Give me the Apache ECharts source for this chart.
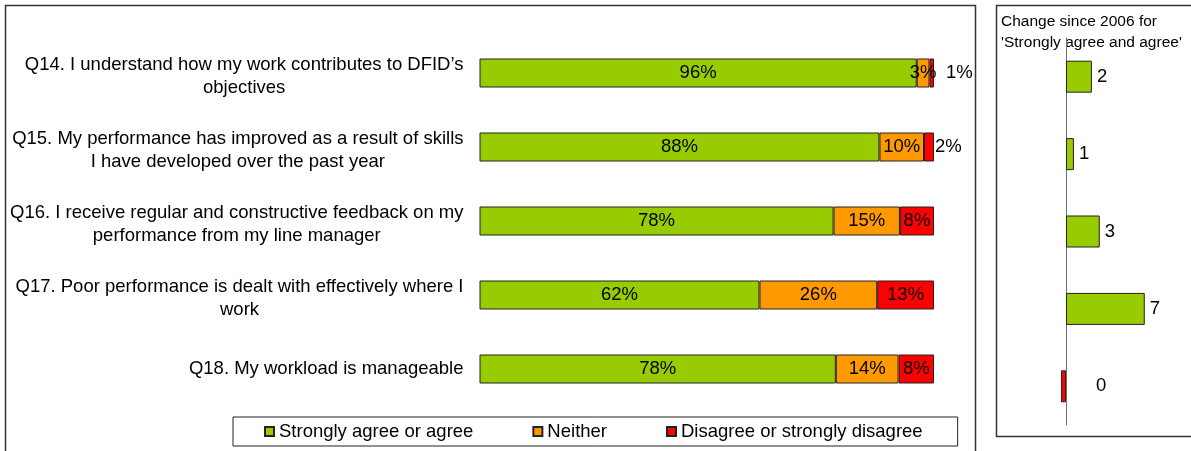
<!DOCTYPE html>
<html>
<head>
<meta charset="utf-8">
<script src="https://cdn.jsdelivr.net/npm/echarts@6/dist/echarts.min.js"></script>
<style>
  html, body { margin: 0; padding: 0; background: #fff; }
  #chart { width: 1191px; height: 451px; }
</style>
</head>
<body>
<div id="chart"></div>
<script>
// Survey statements (top to bottom)
const questions = [
  "Q14. I understand how my work contributes to DFID\u2019s\nobjectives",
  "Q15. My performance has improved as a result of skills\nI have developed over the past year",
  "Q16. I receive regular and constructive feedback on my\nperformance from my line manager",
  "Q17. Poor performance is dealt with effectively where I\nwork",
  "Q18. My workload is manageable"
];
const seriesNames = ["Strongly agree or agree", "Neither", "Disagree or strongly disagree"];

// Percent of respondents
const agree    = [96.2, 88.0, 77.9, 61.6, 78.4];
const neither  = [2.8, 9.8, 14.6, 25.9, 13.8];
const disagree = [1.0, 2.2, 7.5, 12.5, 7.8];

// Change in 'Strongly agree and agree' since 2006 (percentage points)
const change = [2.3, 0.7, 3.0, 7.0, -0.45];

const GREEN = '#99CC00', ORANGE = '#FF9900', RED = '#FF0000';
const FONT = 'Liberation Sans, Arial, sans-serif';
const FS = 18.5;

const chart = echarts.init(document.getElementById('chart'), null, { renderer: 'canvas' });

const pct = p => Math.round(p.value) + '%';
const barLabel = { show: true, position: 'inside', color: '#000', fontSize: FS, fontFamily: FONT, formatter: pct };
const barBorder = { borderColor: '#222', borderWidth: 1 };

// Small red segments get their label pushed outside the bar end
const disagreeData = disagree.map((v, i) => {
  if (i === 0) return { value: v, label: { position: 'right', distance: 12 } };
  if (i === 1) return { value: v, label: { position: 'right', distance: 1 } };
  return v;
});

const changeData = change.map(v => v < 0
  ? { value: v, itemStyle: { color: RED }, label: { position: 'right', distance: 30 } }
  : v);

// Two-line statements: each line centred within the right-aligned block,
// with a thin spacer line on top so the block sits slightly lower.
const questionLabel = v => {
  const lines = v.split('\n');
  if (lines.length === 1) return '{c|' + lines[0] + '}';
  return '{s| }\n' + lines.map(s => '{c|' + s + '}').join('\n');
};

const option = {
  animation: false,
  backgroundColor: '#fff',
  textStyle: { fontFamily: FONT },
  grid: [
    { left: 479.5, width: 454.5, top: 36, height: 370 },
    { left: 1043.5, width: 123.75, top: 38, height: 387 }
  ],
  legend: {
    data: seriesNames,
    left: 233, top: 417,
    orient: 'horizontal',
    padding: [5, 35, 5, 31],
    itemWidth: 9, itemHeight: 9, itemGap: 59,
    icon: 'rect',
    borderColor: '#222', borderWidth: 1,
    backgroundColor: '#fff',
    textStyle: { fontSize: FS, color: '#000', fontFamily: FONT }
  },
  xAxis: [
    { gridIndex: 0, type: 'value', min: 0, max: 100, show: false },
    { gridIndex: 1, type: 'value', min: -2, max: 9, show: false }
  ],
  yAxis: [
    {
      gridIndex: 0, type: 'category', data: questions, inverse: true,
      axisLine: { show: false }, axisTick: { show: false }, splitLine: { show: false },
      axisLabel: {
        margin: 16, align: 'right', color: '#000', fontSize: FS, fontFamily: FONT, lineHeight: 23,
        formatter: questionLabel,
        rich: {
          c: { align: 'center', fontSize: FS, fontFamily: FONT, color: '#000', lineHeight: 23 },
          s: { fontSize: 1, lineHeight: 6 }
        }
      }
    },
    {
      gridIndex: 1, type: 'category', data: questions, inverse: true,
      axisLine: { show: true, onZero: true, lineStyle: { color: '#707070', width: 1 } },
      axisTick: { show: false }, axisLabel: { show: false }, splitLine: { show: false }
    }
  ],
  series: [
    { name: seriesNames[0], type: 'bar', stack: 'all', xAxisIndex: 0, yAxisIndex: 0, barWidth: 29,
      itemStyle: Object.assign({ color: GREEN }, barBorder), label: barLabel, data: agree },
    { name: seriesNames[1], type: 'bar', stack: 'all', xAxisIndex: 0, yAxisIndex: 0, barWidth: 29,
      itemStyle: Object.assign({ color: ORANGE }, barBorder), label: barLabel, data: neither },
    { name: seriesNames[2], type: 'bar', stack: 'all', xAxisIndex: 0, yAxisIndex: 0, barWidth: 29,
      itemStyle: Object.assign({ color: RED }, barBorder), label: barLabel, data: disagreeData },
    { name: 'Change since 2006', type: 'bar', xAxisIndex: 1, yAxisIndex: 1, barWidth: 32,
      itemStyle: Object.assign({ color: GREEN }, barBorder),
      label: { show: true, position: 'right', distance: 5, color: '#000', fontSize: FS, fontFamily: FONT,
        formatter: p => String(Math.round(p.value) || 0) },
      data: changeData }
  ],
  graphic: [
    { type: 'rect', silent: true, z: -1, shape: { x: 5.5, y: 5.5, width: 970, height: 470 },
      style: { fill: null, stroke: '#333', lineWidth: 1.5 } },
    { type: 'rect', silent: true, z: -1, shape: { x: 996.5, y: 5.5, width: 220, height: 431 },
      style: { fill: null, stroke: '#333', lineWidth: 1.5 } },
    { type: 'text', left: 1001, top: 11, silent: true,
      style: { text: "Change since 2006 for\n'Strongly agree and agree'", fontSize: 15.5, lineHeight: 21,
        fontFamily: FONT, fill: '#000' } }
  ]
};

chart.setOption(option);
</script>
</body>
</html>
